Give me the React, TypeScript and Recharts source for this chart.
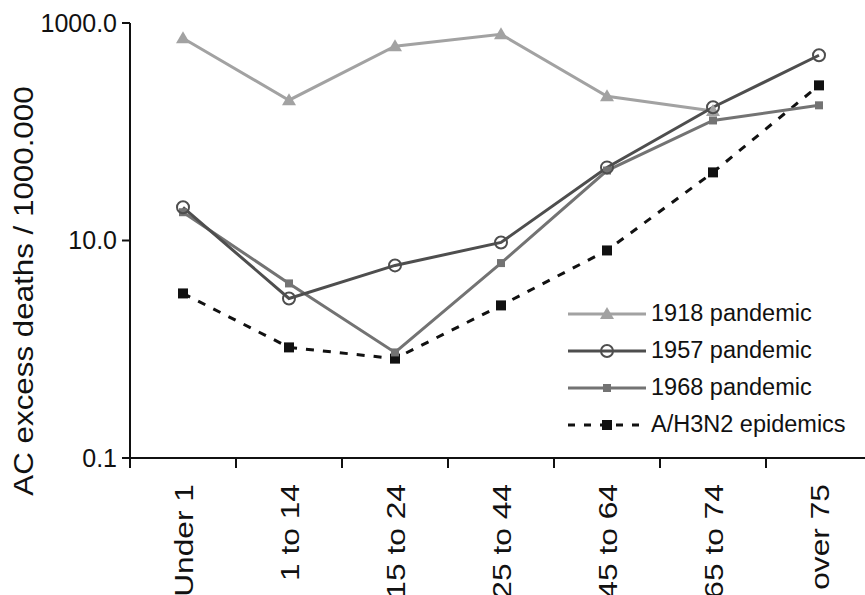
import { LineChart, Line, XAxis, YAxis, Legend } from 'recharts';

const categories = ['Under 1', '1 to 14', '15 to 24', '25 to 44', '45 to 64', '65 to 74', 'over 75'];
const pandemic1918 = [723, 195, 611, 787, 212, 155, null];
const pandemic1957 = [20.2, 2.93, 5.9, 9.6, 47, 168, 505];
const pandemic1968 = [18.2, 4.03, 0.935, 6.2, 44, 127, 175];
const h3n2 = [3.26, 1.04, 0.82, 2.53, 8.1, 42.3, 267];
const yTicks = [0.1, 10, 1000];

const data = categories.map((cat, i) => ({
  cat,
  p1918: pandemic1918[i],
  p1957: pandemic1957[i],
  p1968: pandemic1968[i],
  h3n2: h3n2[i],
}));

const FONT = '"Liberation Sans", Arial, sans-serif';
const C1918 = '#a2a2a2';
const C1957 = '#4e4e4e';
const C1968 = '#737373';
const CH3 = '#111111';

const CHART_W = 872;
const PLOT_LEFT = 130;
const BAND = (CHART_W - PLOT_LEFT) / categories.length;

// the reference's rotated texts run longer than their glyph height suggests, so stretch them along the text
const XTick = (props: any) => {
  const { x, y, payload } = props;
  const tx = x + 9.5;
  const ty = y + 26;
  return (
    <g>
      <line x1={x - BAND / 2} x2={x - BAND / 2} y1={y} y2={y + 10} stroke="#111" strokeWidth={2} />
      <text transform={`translate(${tx} ${ty}) rotate(-90) scale(1.22 1)`} textAnchor="end" fontSize={26} fill="#111" fontFamily={FONT}>
        {payload.value}
      </text>
    </g>
  );
};

const triangleDot = (props: any) => {
  const { cx, cy, index } = props;
  if (cx == null || cy == null || props.value == null) return <g key={`t${index}`} />;
  return <path key={`t${index}`} d={`M${cx},${cy - 7}L${cx + 7},${cy + 5}L${cx - 7},${cy + 5}Z`} fill={C1918} />;
};

const circleDot = (props: any) => {
  const { cx, cy, index } = props;
  return <circle key={`c${index}`} cx={cx} cy={cy} r={6} fill="none" stroke={C1957} strokeWidth={2} />;
};

const squareDot = (color: string, s: number) => (props: any) => {
  const { cx, cy, index } = props;
  return <rect key={`s${index}`} x={cx - s / 2} y={cy - s / 2} width={s} height={s} fill={color} />;
};

const legendItems = [
  { name: '1918 pandemic', color: C1918, dash: undefined, marker: 'tri' },
  { name: '1957 pandemic', color: C1957, dash: undefined, marker: 'circle' },
  { name: '1968 pandemic', color: C1968, dash: undefined, marker: 'square' },
  { name: 'A/H3N2 epidemics', color: CH3, dash: '7 9', marker: 'bsquare' },
];

const renderLegend = () => (
  <div style={{ fontFamily: FONT, fontSize: 23.5, color: '#111' }}>
    {legendItems.map((it) => (
      <div key={it.name} style={{ display: 'flex', alignItems: 'center', height: 37 }}>
        <svg width={78} height={20} style={{ marginRight: 5 }}>
          <line x1={0} x2={78} y1={10} y2={10} stroke={it.color} strokeWidth={3} strokeDasharray={it.dash} />
          {it.marker === 'tri' && <path d="M39,3L46,15L32,15Z" fill={it.color} />}
          {it.marker === 'circle' && <circle cx={39} cy={10} r={6} fill="none" stroke={it.color} strokeWidth={2} />}
          {it.marker === 'square' && <rect x={35} y={6} width={8} height={8} fill={it.color} />}
          {it.marker === 'bsquare' && <rect x={34} y={5} width={10} height={10} fill={it.color} />}
        </svg>
        <span style={{ whiteSpace: 'nowrap', lineHeight: 1 }}>{it.name}</span>
      </div>
    ))}
  </div>
);

export default function App() {
  return (
    <div style={{ position: 'absolute', left: 0, top: 0, width: 865, height: 595, overflow: 'hidden', background: '#fff' }}>
      <LineChart width={CHART_W} height={595} data={data} margin={{ top: 23, right: 0, bottom: 7, left: 50 }}>
        <XAxis
          dataKey="cat"
          scale="band"
          interval={0}
          height={130}
          tickSize={0}
          tickMargin={0}
          tickLine={false}
          axisLine={{ stroke: '#111', strokeWidth: 2 }}
          tick={<XTick />}
        />
        <YAxis
          type="number"
          scale="log"
          domain={[0.1, 1000]}
          allowDataOverflow
          ticks={yTicks}
          width={80}
          tickSize={8}
          tickMargin={5}
          tickFormatter={(v: number) => v.toFixed(1)}
          axisLine={{ stroke: '#111', strokeWidth: 2 }}
          tickLine={{ stroke: '#111', strokeWidth: 2 }}
          tick={{ fontSize: 25, fill: '#111', fontFamily: FONT }}
          label={{
            content: () => (
              <text transform="translate(33 291) rotate(-90) scale(1.1 1)" textAnchor="middle" fontSize={28.5} fill="#111" fontFamily={FONT}>
                AC excess deaths / 1000.000
              </text>
            ),
          }}
        />
        <Legend
          content={renderLegend}
          layout="horizontal"
          verticalAlign="middle"
          align="center"
          wrapperStyle={{ left: 568, top: 295, width: 300 }}
        />
        <Line dataKey="h3n2" name="A/H3N2 epidemics" stroke={CH3} strokeWidth={3} strokeDasharray="8 9" dot={squareDot(CH3, 10)} isAnimationActive={false} />
        <Line dataKey="p1918" name="1918 pandemic" stroke={C1918} strokeWidth={3} dot={triangleDot} isAnimationActive={false} />
        <Line dataKey="p1968" name="1968 pandemic" stroke={C1968} strokeWidth={3} dot={squareDot(C1968, 8)} isAnimationActive={false} />
        <Line dataKey="p1957" name="1957 pandemic" stroke={C1957} strokeWidth={3} dot={circleDot} isAnimationActive={false} />
      </LineChart>
    </div>
  );
}
